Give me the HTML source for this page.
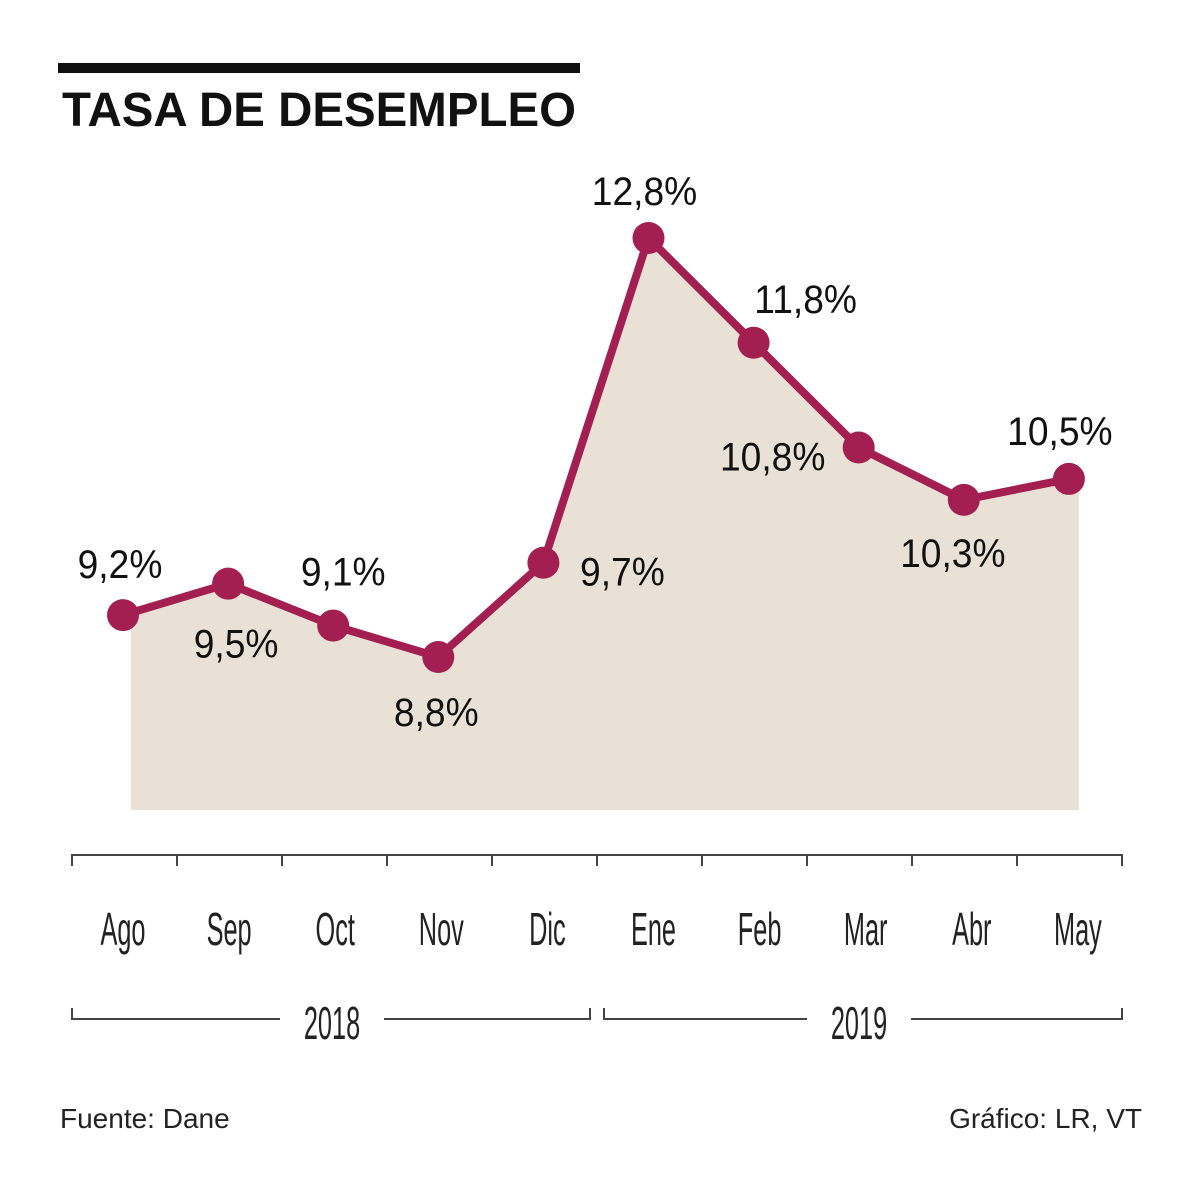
<!DOCTYPE html>
<html><head><meta charset="utf-8"><style>
body{margin:0;background:#fff}
svg{display:block}
.lbl{font-family:"Liberation Sans",sans-serif;font-size:40px;fill:#111}
.mon{font-family:"Liberation Sans",sans-serif;font-size:46px;fill:#222}
</style></head><body>
<svg id="chart" width="1200" height="1189" viewBox="0 0 1200 1189" xmlns="http://www.w3.org/2000/svg">
<rect x="58" y="63" width="522" height="10" fill="#111"/>
<text x="62" y="126" font-family="Liberation Sans, sans-serif" font-weight="bold" font-size="48" textLength="514" lengthAdjust="spacingAndGlyphs" fill="#111">TASA DE DESEMPLEO</text>
<g id="area"></g><g id="axis"></g><g id="marks"></g>
<text x="60" y="1128" font-family="Liberation Sans, sans-serif" font-size="28" fill="#222">Fuente: Dane</text>
<text x="1142" y="1128" text-anchor="end" font-family="Liberation Sans, sans-serif" font-size="28" fill="#222">Gráfico: LR, VT</text>
</svg>
<script>
const months = ["Ago","Sep","Oct","Nov","Dic","Ene","Feb","Mar","Abr","May"];
const values = [9.2,9.5,9.1,8.8,9.7,12.8,11.8,10.8,10.3,10.5];
const valueLabels = ["9,2%","9,5%","9,1%","8,8%","9,7%","12,8%","11,8%","10,8%","10,3%","10,5%"];
const years = ["2018","2019"];
const labelDx = [-3,8,10,-2,79,-4,52,-86,-11,-9];
const labelDy = [-37,74,-40,69,23,-33,-30,23,67,-34];

const NS="http://www.w3.org/2000/svg";
function mk(t,a,p){const e=document.createElementNS(NS,t);for(const k in a)e.setAttribute(k,a[k]);p.appendChild(e);return e;}
const x=i=>123+i*105.1;
const y=v=>657-(v-8.8)*104.75;
const area=document.getElementById('area'),axis=document.getElementById('axis'),marks=document.getElementById('marks');

let d="M"+(x(0)+8)+" 810";
values.forEach((v,i)=>{d+=" L"+(i==0?x(0)+8:i==values.length-1?x(i)+10:x(i))+" "+y(v);});
d+=" L"+(x(values.length-1)+10)+" 810 Z";
const ar=mk('path',{d:d,fill:'#e9e1d5'},area);



const ln=mk('polyline',{points:values.map((v,i)=>x(i)+","+y(v)).join(" "),fill:'none',stroke:'#a31f52','stroke-width':8,'stroke-linejoin':'round'},marks);


values.forEach((v,i)=>{
  const c=mk('circle',{cx:x(i),cy:y(v),r:16,fill:'#a31f52'},marks);
  
  
  const t=mk('text',{x:0,y:0,'text-anchor':'middle',class:'lbl',transform:`translate(${x(i)+labelDx[i]},${y(v)+labelDy[i]}) scale(0.93,1)`},marks);
  t.textContent=valueLabels[i];
  
  
});

const al=mk('line',{x1:72,y1:855,x2:1122,y2:855,stroke:'#444','stroke-width':2},axis);


for(let i=0;i<=months.length;i++){
  const tk=mk('line',{x1:72+i*105,y1:854,x2:72+i*105,y2:866,stroke:'#444','stroke-width':2},axis);
  
  
}
months.forEach((m,i)=>{
  const cx=123+i*106.1;
  const t=mk('text',{x:0,y:0,'text-anchor':'middle',class:'mon',transform:`translate(${cx},945) scale(0.55,1)`},axis);
  t.textContent=m;
  
  
});
years.forEach((yr,j)=>{
  const x0=j==0?72:604, x1=j==0?590:1122, cx=j==0?332:859;
  const p=mk('path',{d:`M${x0} 1008 V1019 H${cx-52} M${cx+52} 1019 H${x1} V1008`,fill:'none',stroke:'#444','stroke-width':2},axis);
  
  
  const t=mk('text',{x:0,y:0,'text-anchor':'middle',class:'mon',transform:`translate(${cx},1039) scale(0.55,1)`},axis);
  t.textContent=yr;
  
  
});
</script>
</body></html>
